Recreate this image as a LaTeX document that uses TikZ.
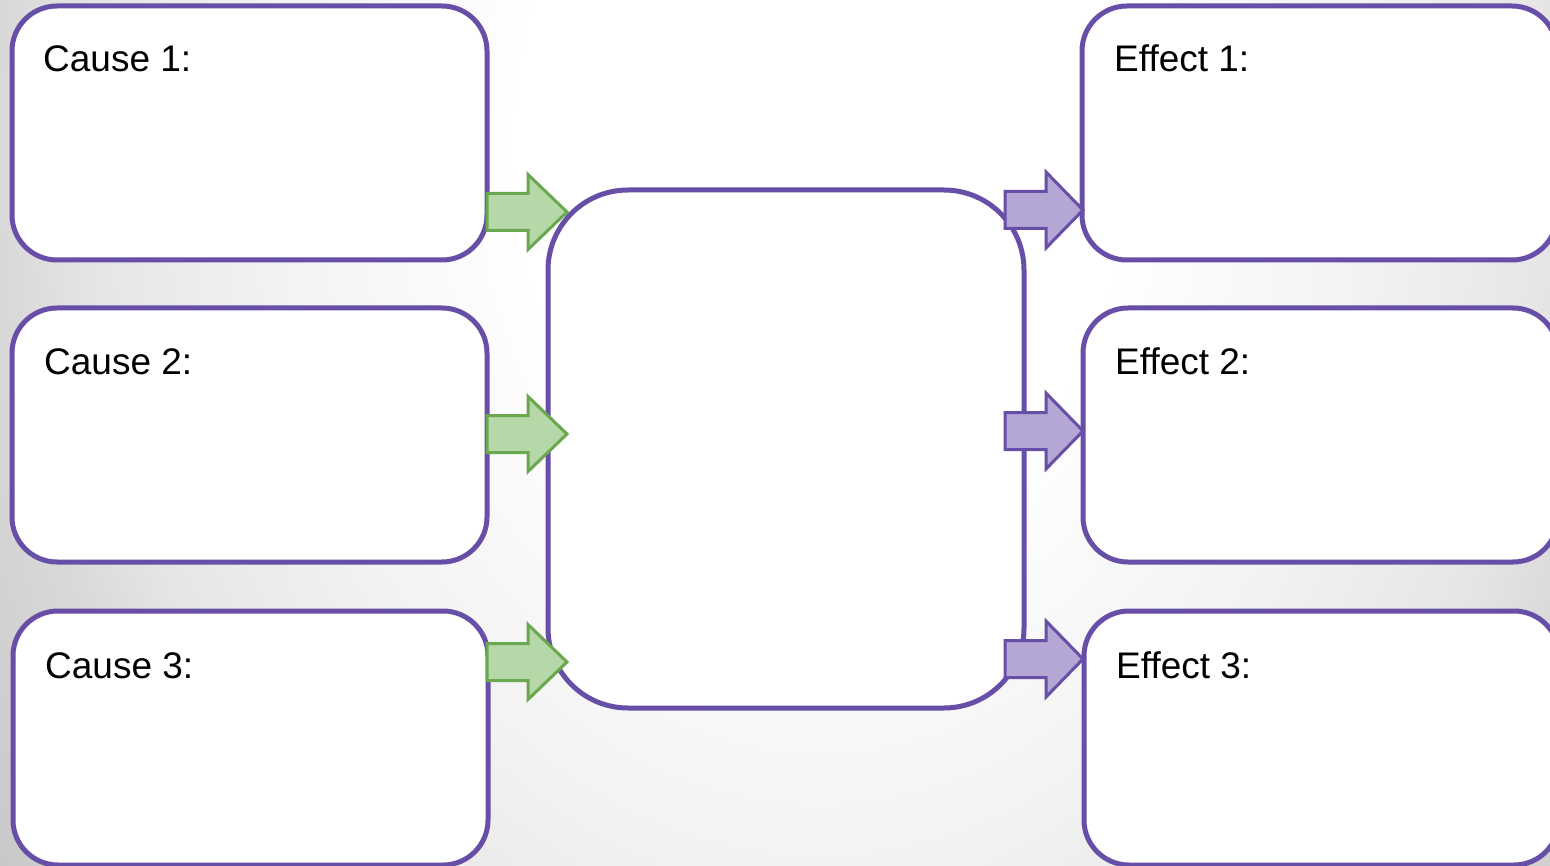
\documentclass[tikz,border=0pt]{standalone}
\usepackage{fontspec}
\setmainfont{Liberation Sans}
\definecolor{boxline}{HTML}{674EA7}
\definecolor{gline}{HTML}{6AA84F}
\definecolor{gfill}{HTML}{B6D7A8}
\definecolor{pfill}{HTML}{B4A7D6}
\pgfdeclareradialshading{bgshade}{\pgfpoint{0bp}{0bp}}{color(0bp)=(white); color(7.5bp)=(white); color(13.75bp)=(white!95!black); color(18.25bp)=(white!90!black); color(20.5bp)=(white!85!black); color(25bp)=(white!78!black); color(50bp)=(white!70!black)}
\begin{document}
\begin{tikzpicture}[x=1pt,y=-1pt,
  box/.style={draw=boxline, fill=white, line width=5pt, rounded corners=45pt, inner sep=0pt, outer sep=0pt,
    minimum width=475pt, minimum height=254pt, anchor=north west},
  lbl/.style={anchor=base west, inner sep=0pt, font=\fontsize{37}{40}\selectfont},
  garrow/.style={draw=gline, fill=gfill, line width=3pt, line join=miter},
  parrow/.style={draw=boxline, fill=pfill, line width=3pt, line join=miter},
  pics/fatarrow/.style={code={
    \path[#1] (0,-18.5) -- (41,-18.5) -- (41,-37.5) -- (80,0) -- (41,37.5) -- (41,18.5) -- (0,18.5) -- cycle;}},
  pics/fatarrowp/.style={code={
    \path[#1] (0,-18.5) -- (41,-18.5) -- (41,-38) -- (78,0) -- (41,38) -- (41,18.5) -- (0,18.5) -- cycle;}}
]
\useasboundingbox (0,0) rectangle (1550,866);
\begin{scope}
\clip (0,0) rectangle (1550,866);
\shade[shading=bgshade] (-180,-1150) rectangle (1820,1450);
\end{scope}

% cause boxes
\node[box] (c1) at (12,6) {};
\node[box] (c2) at (12,308) {};
\node[box] (c3) at (13,611) {};
% central box
\node[box, rounded corners=80pt, minimum width=476pt, minimum height=518pt] (mid) at (548,190) {};
% effect boxes
\node[box] (e1) at (1082,6) {};
\node[box] (e2) at (1083,308) {};
\node[box] (e3) at (1084,611) {};

% labels
\node[lbl] (tc1) at (43,72) {Cause 1:};
\node[lbl] (tc2) at (44,374) {Cause 2:};
\node[lbl] (tc3) at (45,678) {Cause 3:};
\node[lbl] (te1) at (1114,72) {Effect 1:};
\node[lbl] (te2) at (1115,374) {Effect 2:};
\node[lbl] (te3) at (1116,678) {Effect 3:};

% arrows
\pic at (487,212) {fatarrow=garrow};
\pic at (487,434) {fatarrow=garrow};
\pic at (487,662) {fatarrow=garrow};
\pic at (1005,210) {fatarrowp=parrow};
\pic at (1005,431) {fatarrowp=parrow};
\pic at (1005,659) {fatarrowp=parrow};
\end{tikzpicture}
\end{document}
